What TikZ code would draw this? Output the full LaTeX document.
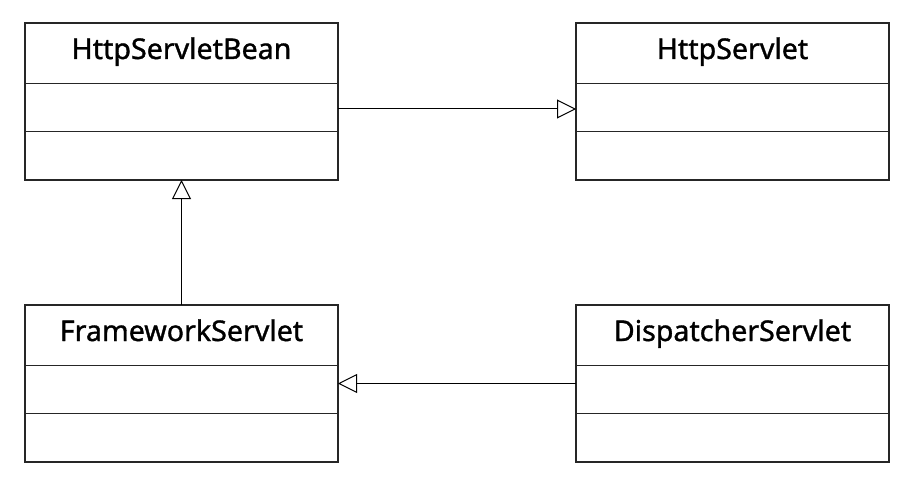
\documentclass[tikz,border=0pt]{standalone}
\usepackage{fontspec}
\setmainfont{Noto Sans}
\newfontfamily\ttlfont{Noto Sans}[FakeBold=1.2]
\usetikzlibrary{arrows.meta}
\begin{document}
\begin{tikzpicture}[x=1pt,y=-1pt,
  cls/.style={draw=black!85, line width=1.6pt, minimum width=313pt, minimum height=157pt, inner sep=0pt, outer sep=0pt},
  divline/.style={draw=black!85, line width=1.6pt},
  ttl/.style={anchor=base, font=\ttlfont\fontsize{28.6}{30}\selectfont, inner sep=0pt},
  inh/.style={line width=1pt, -{Triangle[open,length=19pt,width=19pt,fill=white]}}]
\useasboundingbox (0,0) rectangle (921,492);
\node[cls] (hsb) at (181.5,101.5) {};
\node[cls] (hs) at (732.5,101.5) {};
\node[cls] (fs) at (181.5,383.5) {};
\node[cls] (ds) at (732.5,383.5) {};
\foreach \b in {hsb,hs,fs,ds}{
  \draw[divline] ([yshift=-60.5pt]\b.north west) -- ([yshift=-60.5pt]\b.north east);
  \draw[divline] ([yshift=-108.5pt]\b.north west) -- ([yshift=-108.5pt]\b.north east);
}
\node[ttl] (hsbt) at ([yshift=-36pt]hsb.north) {HttpServletBean};
\node[ttl] (hst) at ([yshift=-36pt]hs.north) {HttpServlet};
\node[ttl] (fst) at ([yshift=-36pt]fs.north) {FrameworkServlet};
\node[ttl] (dst) at ([yshift=-36pt]ds.north) {DispatcherServlet};
\draw[inh] (fs.north) -- (hsb.south);
\draw[inh] ([yshift=-7.5pt]hsb.east) -- ([yshift=-7.5pt]hs.west);
\draw[inh] (ds.west) -- (fs.east);
\end{tikzpicture}
\end{document}
